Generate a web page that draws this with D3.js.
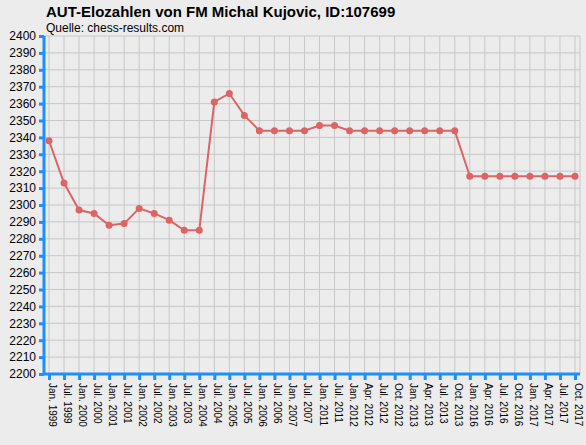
<!DOCTYPE html><html><head><meta charset="utf-8"><script src="https://cdn.jsdelivr.net/npm/d3@7"></script>
<style>body{margin:0;background:#ececec}svg{display:block}</style></head><body><svg id="c" width="586" height="445"></svg><script>
const categories=["Jan. 1999","Jul. 1999","Jan. 2000","Jul. 2000","Jan. 2001","Jul. 2001","Jan. 2002","Jul. 2002","Jan. 2003","Jul. 2003","Jan. 2004","Jul. 2004","Jan. 2005","Jul. 2005","Jan. 2006","Jul. 2006","Jan. 2007","Jul. 2007","Jan. 2011","Jul. 2011","Jan. 2012","Apr. 2012","Jul. 2012","Oct. 2012","Jan. 2013","Apr. 2013","Jul. 2013","Oct. 2013","Jan. 2016","Apr. 2016","Jul. 2016","Oct. 2016","Jan. 2017","Apr. 2017","Jul. 2017","Oct. 2017"];
const elo=[2338,2313,2297,2295,2288,2289,2298,2295,2291,2285,2285,2361,2366,2353,2344,2344,2344,2344,2347,2347,2344,2344,2344,2344,2344,2344,2344,2344,2317,2317,2317,2317,2317,2317,2317,2317];
const yTicks=d3.range(2200,2401,10);
const svg=d3.select("#c");
const L=44,R=580,T=36,B=374;
const x=d3.scalePoint().domain(categories).range([49,575]);
const y=d3.scaleLinear().domain([2200,2400]).range([B,T]);
const f="Liberation Sans, Arial, sans-serif";
svg.append("text").attr("x",46).attr("y",17).attr("font-family",f).attr("font-weight","bold").attr("font-size",15).text("AUT-Elozahlen von FM Michal Kujovic, ID:107699");
svg.append("text").attr("x",46).attr("y",32).attr("font-family",f).attr("font-size",12).text("Quelle: chess-results.com");
const g=svg.append("g");
g.selectAll(".hg").data(yTicks).join("line").attr("x1",L).attr("x2",R).attr("y1",d=>y(d)).attr("y2",d=>y(d)).attr("stroke","#c8c8c8");
g.selectAll(".vg").data(categories).join("line").attr("x1",d=>x(d)).attr("x2",d=>x(d)).attr("y1",T).attr("y2",B).attr("stroke","#c8c8c8");
g.append("line").attr("x1",R).attr("x2",R).attr("y1",T).attr("y2",B).attr("stroke","#c8c8c8");
const ya=svg.append("g").attr("transform",`translate(${L},0)`).call(d3.axisLeft(y).tickValues(yTicks).tickSize(5).tickPadding(3).tickFormat(d3.format("d")));
const xa=svg.append("g").attr("transform",`translate(0,${B})`).call(d3.axisBottom(x).tickSize(6).tickPadding(4));
[ya,xa].forEach(a=>{a.select(".domain").attr("stroke","#1e8fff").attr("stroke-width",3);a.selectAll(".tick line").attr("stroke","#1e8fff").attr("stroke-width",3);a.selectAll("text").attr("fill","#000").attr("font-family",f).attr("font-size",12);});
ya.select(".domain").attr("d",`M0,${T}V${B}`);
ya.selectAll(".tick line").attr("x1",0).attr("x2",-5);
xa.select(".domain").attr("d",`M${L},0H${R}`);
xa.selectAll("text").attr("font-size",10).attr("transform","rotate(90)").attr("text-anchor","start").attr("x",9).attr("y",-3).attr("dy","0.35em");
const line=d3.line().x((d,i)=>x(categories[i])).y(d=>y(d));
svg.append("path").datum(elo).attr("d",line).attr("fill","none").attr("stroke","#dc6464").attr("stroke-width",2);
svg.selectAll(".pt").data(elo).join("circle").attr("cx",(d,i)=>x(categories[i])).attr("cy",d=>y(d)).attr("r",3.5).attr("fill","#dc6464");
</script></body></html>
